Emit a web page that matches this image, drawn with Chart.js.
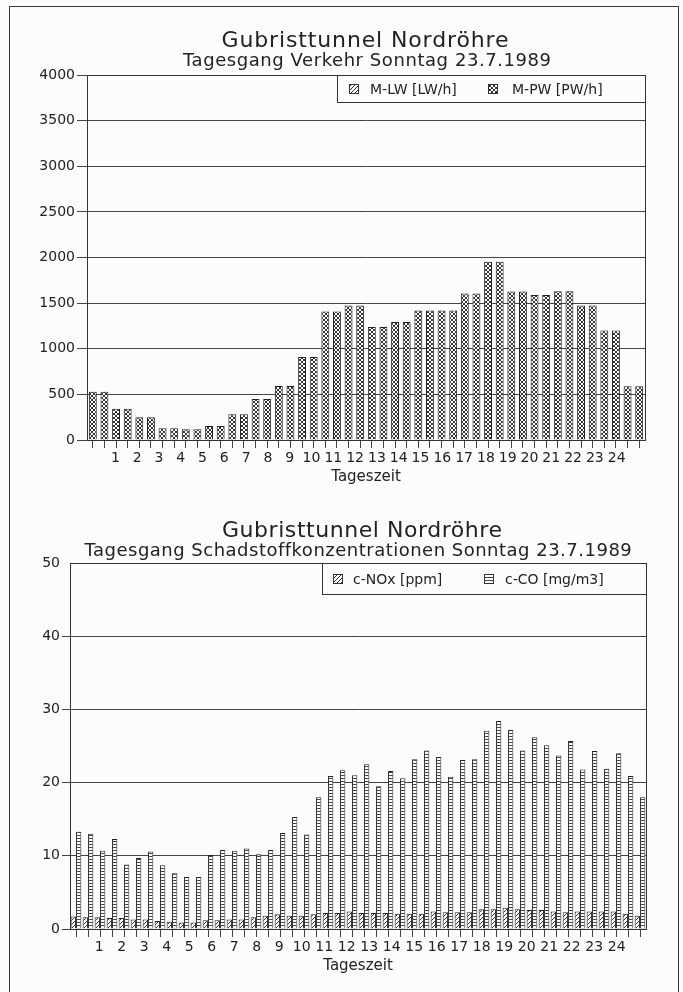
<!DOCTYPE html>
<html>
<head>
<meta charset="utf-8">
<script src="https://cdn.jsdelivr.net/npm/chart.js@4.4.0/dist/chart.umd.min.js"></script>
<style>
  body { margin: 0; background: #fcfcfa; }
  #frame { position: absolute; left: 9px; top: 6px; width: 670px; height: 1000px; border: 1px solid #3a3a3a; box-sizing: border-box; }
  .panel { position: absolute; left: 0; width: 683px; height: 496px; }
</style>
</head>
<body>
<div id="frame"></div>
<div class="panel" style="top:0"><canvas id="traffic"></canvas></div>
<div class="panel" style="top:496px"><canvas id="pollutants"></canvas></div>
<script>
// half-hour slots of the day (end of each interval)
const halfHours = [
  '0:30','1:00','1:30','2:00','2:30','3:00','3:30','4:00','4:30','5:00','5:30','6:00',
  '6:30','7:00','7:30','8:00','8:30','9:00','9:30','10:00','10:30','11:00','11:30','12:00',
  '12:30','13:00','13:30','14:00','14:30','15:00','15:30','16:00','16:30','17:00','17:30','18:00',
  '18:30','19:00','19:30','20:00','20:30','21:00','21:30','22:00','22:30','23:00','23:30','24:00'
];
const hourLabels = ['1','2','3','4','5','6','7','8','9','10','11','12',
  '13','14','15','16','17','18','19','20','21','22','23','24'];
const trafficTicks = [0, 500, 1000, 1500, 2000, 2500, 3000, 3500, 4000];
const pollutantTicks = [0, 10, 20, 30, 40, 50];

// traffic [vehicles/h]: trucks (none on Sunday) and cars
const lwPerHour = [
  0, 0, 0, 0, 0, 0, 0, 0, 0, 0, 0, 0, 0, 0, 0, 0, 0, 0, 0, 0, 0, 0, 0, 0,
  0, 0, 0, 0, 0, 0, 0, 0, 0, 0, 0, 0, 0, 0, 0, 0, 0, 0, 0, 0, 0, 0, 0, 0
];
const pwPerHour = [
  530, 530, 343, 343, 248, 248, 128, 128, 117, 117, 153, 153,
  281, 281, 449, 449, 591, 591, 909, 909, 1409, 1409, 1474, 1474,
  1237, 1237, 1292, 1292, 1420, 1420, 1420, 1420, 1606, 1606, 1953, 1953,
  1628, 1628, 1588, 1588, 1631, 1631, 1474, 1474, 1201, 1201, 588, 588
];

// concentrations
const noxPpm = [
  1.7, 1.6, 1.6, 1.5, 1.5, 1.3, 1.3, 1.1, 1.0, 0.9, 0.9, 1.2,
  1.2, 1.3, 1.3, 1.6, 1.8, 2.0, 1.8, 1.8, 2.0, 2.2, 2.2, 2.4,
  2.2, 2.2, 2.2, 2.1, 2.1, 2.1, 2.4, 2.3, 2.3, 2.3, 2.7, 2.7,
  2.9, 2.7, 2.6, 2.6, 2.4, 2.3, 2.4, 2.4, 2.4, 2.4, 2.1, 1.8
];
const coMgM3 = [
  13.3, 13.0, 10.7, 12.3, 8.8, 9.7, 10.6, 8.7, 7.6, 7.1, 7.1, 10.1,
  10.8, 10.7, 11.0, 10.2, 10.8, 13.1, 15.3, 12.9, 18.0, 20.9, 21.7, 21.0,
  22.5, 19.5, 21.6, 20.6, 23.2, 24.4, 23.5, 20.8, 23.1, 23.2, 27.1, 28.4,
  27.2, 24.4, 26.2, 25.1, 23.7, 25.7, 21.8, 24.3, 21.9, 24.0, 20.9, 18.0
];

const INK = '#222';
const LINE = '#444';
const FONT = '"DejaVu Sans", sans-serif';

// fill patterns like the plotter output
function makePattern(kind) {
  const c = document.createElement('canvas');
  const g = c.getContext('2d');
  const size = kind === 'ladder' ? 3 : 4;
  c.width = size; c.height = size;
  g.fillStyle = '#fff';
  g.fillRect(0, 0, size, size);
  g.strokeStyle = '#333';
  g.fillStyle = '#444';
  g.lineWidth = 1;
  if (kind === 'hatch') {
    g.beginPath();
    g.moveTo(-1, 5); g.lineTo(5, -1);
    g.stroke();
  } else if (kind === 'cross') {
    g.beginPath();
    g.moveTo(0, 0); g.lineTo(4, 4);
    g.moveTo(0, 4); g.lineTo(4, 0);
    g.stroke();
  } else {
    g.fillRect(0, 0, size, 1);
  }
  return g.createPattern(c, 'repeat');
}

function drawSpaced(ctx, text, cx, baseline, width, font) {
  ctx.font = font;
  ctx.letterSpacing = '0px';
  const w = ctx.measureText(text).width;
  ctx.letterSpacing = ((width - w) / (text.length - 1)) + 'px';
  ctx.textAlign = 'left';
  ctx.textBaseline = 'alphabetic';
  ctx.fillText(text, cx - width / 2, baseline);
  ctx.letterSpacing = '0px';
}

// titles, plot frame and boxed legend
const sheetDecor = {
  id: 'sheetDecor',
  afterDraw(chart, args, opts) {
    const { ctx, chartArea: a } = chart;
    ctx.save();
    ctx.strokeStyle = '#333';
    ctx.lineWidth = 1;
    ctx.beginPath();
    ctx.moveTo(Math.round(a.left) + 0.5, Math.round(a.top) + 0.5);
    ctx.lineTo(Math.round(a.right) + 0.5, Math.round(a.top) + 0.5);
    ctx.lineTo(Math.round(a.right) + 0.5, Math.round(a.bottom) + 0.5);
    ctx.stroke();

    ctx.fillStyle = INK;
    drawSpaced(ctx, opts.title, opts.titleX, opts.titleY, opts.titleW, '22px ' + FONT);
    drawSpaced(ctx, opts.subtitle, opts.subX, opts.subY, opts.subW, '18px ' + FONT);

    const lg = opts.legend;
    const top = Math.round(a.top) + 0.5;
    const right = Math.round(a.right) + 0.5;
    ctx.fillStyle = '#fcfcfa';
    ctx.fillRect(lg.left, top, right - lg.left, lg.height);
    ctx.strokeStyle = '#333';
    ctx.strokeRect(lg.left + 0.5, top, right - lg.left - 0.5, lg.height);
    const cy = top + lg.height / 2;
    chart.data.datasets.forEach((ds, i) => {
      const item = lg.items[i];
      ctx.fillStyle = ds.backgroundColor;
      ctx.fillRect(item.swatch, Math.round(cy - 5), 10, 10);
      ctx.strokeStyle = '#333';
      ctx.strokeRect(item.swatch + 0.5, Math.round(cy - 5) + 0.5, 9, 9);
      ctx.fillStyle = INK;
      ctx.font = '14px ' + FONT;
      ctx.textAlign = 'left';
      ctx.textBaseline = 'middle';
      ctx.fillText(ds.label, item.text, cy + 1);
    });
    ctx.restore();
  }
};

function slotAxis() {
  return {
    type: 'category',
    weight: 0,
    offset: true,
    grid: { display: true, drawOnChartArea: false, drawTicks: true, tickLength: 8, offset: false, color: LINE },
    border: { display: true, color: '#333' },
    ticks: { display: false },
    afterFit: axis => { axis.height = 8; }
  };
}

function hourAxis(height) {
  return {
    type: 'linear',
    weight: 1,
    min: -0.5,
    max: 47.5,
    grid: { display: false, drawTicks: false },
    border: { display: false },
    afterBuildTicks: axis => {
      axis.ticks = hourLabels.map((h, i) => ({ value: 1 + i * 45 / 23 }));
    },
    afterFit: axis => { axis.height = height; },
    ticks: {
      autoSkip: false, maxRotation: 0, padding: 2, color: INK,
      font: { family: FONT, size: 14 },
      callback: (v, i) => hourLabels[i]
    },
    title: { display: true, text: 'Tageszeit', color: INK, font: { family: FONT, size: 15 }, padding: { top: 1, bottom: 0 } }
  };
}

function valueAxis(ticksList, width, tickLen, hideTopTick) {
  return {
    min: ticksList[0],
    max: ticksList[ticksList.length - 1],
    afterBuildTicks: axis => { axis.ticks = ticksList.map(v => ({ value: v })); },
    afterFit: axis => { axis.width = width; },
    grid: {
      color: LINE, tickLength: tickLen,
      tickColor: c => (hideTopTick && c.tick && c.tick.value === ticksList[ticksList.length - 1]) ? 'rgba(0,0,0,0)' : LINE
    },
    border: { display: true, color: '#333' },
    ticks: { color: INK, padding: 2, font: { family: FONT, size: 14 }, callback: v => String(v) }
  };
}

new Chart(document.getElementById('traffic'), {
  type: 'bar',
  plugins: [sheetDecor],
  data: {
    labels: halfHours,
    datasets: [
      {
        label: 'M-LW [LW/h]',
        data: lwPerHour,
        backgroundColor: makePattern('hatch'),
        borderColor: '#222',
        borderWidth: 1
      },
      {
        label: 'M-PW [PW/h]',
        data: pwPerHour,
        backgroundColor: makePattern('cross'),
        borderColor: '#222',
        borderWidth: 1
      }
    ]
  },
  options: {
    responsive: true,
    maintainAspectRatio: false,
    animation: false,
    grouped: false,
    barPercentage: 0.68,
    categoryPercentage: 1,
    layout: { padding: { top: 75, right: 38, bottom: 10, left: 0 } },
    plugins: {
      legend: { display: false },
      tooltip: { enabled: false },
      sheetDecor: {
        title: 'Gubristtunnel Nordröhre', titleX: 365, titleY: 47, titleW: 287,
        subtitle: 'Tagesgang Verkehr Sonntag 23.7.1989', subX: 367, subY: 66, subW: 368,
        legend: { left: 337, height: 27, items: [{ swatch: 349, text: 370 }, { swatch: 488, text: 512 }] }
      }
    },
    scales: {
      x: slotAxis(),
      xh: hourAxis(38),
      y: valueAxis(trafficTicks, 87, 10, false)
    }
  }
});

new Chart(document.getElementById('pollutants'), {
  type: 'bar',
  plugins: [sheetDecor],
  data: {
    labels: halfHours,
    datasets: [
      {
        label: 'c-NOx [ppm]',
        data: noxPpm,
        backgroundColor: makePattern('hatch'),
        borderColor: '#222',
        borderWidth: 1
      },
      {
        label: 'c-CO [mg/m3]',
        data: coMgM3,
        backgroundColor: makePattern('ladder'),
        borderColor: '#222',
        borderWidth: 1
      }
    ]
  },
  options: {
    responsive: true,
    maintainAspectRatio: false,
    animation: false,
    barPercentage: 0.98,
    categoryPercentage: 0.9,
    layout: { padding: { top: 67, right: 37, bottom: 17, left: 0 } },
    plugins: {
      legend: { display: false },
      tooltip: { enabled: false },
      sheetDecor: {
        title: 'Gubristtunnel Nordröhre', titleX: 362, titleY: 41, titleW: 280,
        subtitle: 'Tagesgang Schadstoffkonzentrationen Sonntag 23.7.1989', subX: 358, subY: 60, subW: 547,
        legend: { left: 322, height: 31, items: [{ swatch: 333, text: 353 }, { swatch: 484, text: 505 }] }
      }
    },
    scales: {
      x: slotAxis(),
      xh: hourAxis(38),
      y: valueAxis(pollutantTicks, 70, 8, true)
    }
  }
});
</script>
</body>
</html>
